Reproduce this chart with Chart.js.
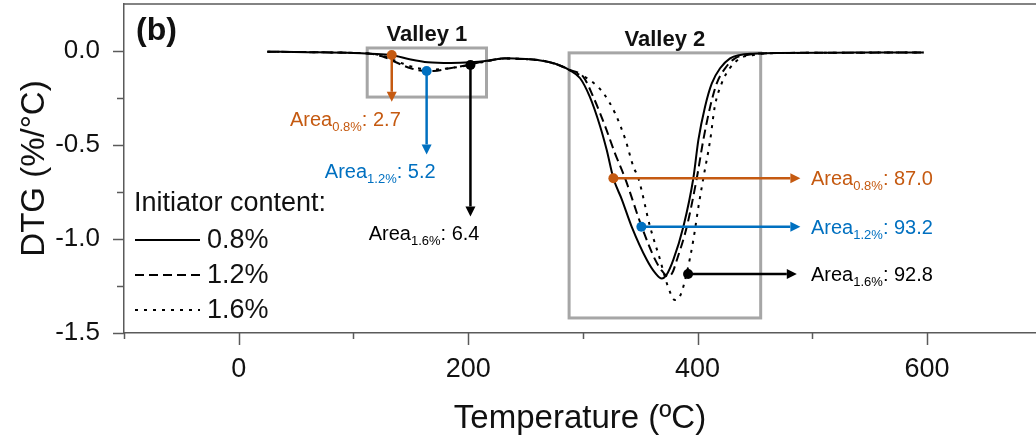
<!DOCTYPE html>
<html>
<head>
<meta charset="utf-8">
<script src="https://cdn.jsdelivr.net/npm/chart.js@4.4.1/dist/chart.umd.min.js"></script>
<style>
  html, body { margin: 0; padding: 0; background: #fff; }
  #wrap { width: 1036px; height: 443px; }
</style>
</head>
<body>
<div id="wrap"><canvas id="chart" width="1036" height="443"></canvas></div>
<script>
const FONT = "'Liberation Sans', Arial, sans-serif";
const TEXT = '#111111';
const AXIS = '#5a5a5a';
const FRAME = '#a6a6a6';
const ORANGE = '#C55A11';
const BLUE = '#0070C0';
const BLACK = '#000000';

// axis ticks (labels only on every other x tick / every half unit on y)
const xTickValues = [-100, 0, 100, 200, 300, 400, 500, 600];
const xTickLabels = ['', '0', '', '200', '', '400', '', '600'];
const yTickValues = [-1.5, -1.25, -1.0, -0.75, -0.5, -0.25, 0.0];
const yTickLabels = ['-1.5', '', '-1.0', '', '-0.5', '', '0.0'];

// DTG curves (temperature in ºC, DTG in %/ºC)
const temps08 = [25, 60, 100, 115, 133, 150, 165, 185, 202, 218, 232, 250, 263, 276, 288, 297.6, 306, 315, 320.8, 326.6, 334, 342.6, 355.7, 363, 368.8, 373, 378.9, 387.6, 396.3, 400.7, 406.5, 412.4, 419.6, 428.3, 437, 448, 470, 520, 560, 597];
const dtg08 = [-0.004, -0.006, -0.010, -0.014, -0.021, -0.045, -0.060, -0.064, -0.060, -0.050, -0.038, -0.042, -0.050, -0.068, -0.100, -0.145, -0.243, -0.400, -0.527, -0.677, -0.790, -0.935, -1.110, -1.180, -1.210, -1.190, -1.110, -0.935, -0.677, -0.473, -0.296, -0.172, -0.092, -0.039, -0.021, -0.014, -0.010, -0.009, -0.008, -0.008];

const temps12 = [25, 60, 100, 115, 125, 140, 150, 160, 170, 184, 200, 215, 232, 250, 263, 276, 288, 300.4, 309, 319.4, 328, 336.8, 351.3, 363, 369, 374.5, 378, 382, 390.6, 399.3, 405, 411, 416.7, 424, 432.6, 443, 455, 480, 530, 597];
const dtg12 = [-0.004, -0.006, -0.010, -0.015, -0.028, -0.068, -0.092, -0.105, -0.106, -0.092, -0.074, -0.055, -0.040, -0.043, -0.050, -0.068, -0.100, -0.137, -0.243, -0.400, -0.544, -0.677, -0.935, -1.110, -1.170, -1.200, -1.180, -1.110, -0.935, -0.677, -0.473, -0.296, -0.172, -0.092, -0.039, -0.021, -0.013, -0.010, -0.009, -0.008];

const temps16 = [25, 60, 100, 115, 125, 140, 155, 170, 185, 202, 215, 232, 250, 263, 276, 288, 295, 306, 318, 328, 337, 344, 348.4, 358.6, 367.3, 374, 380.4, 385, 390.6, 396.3, 400.7, 405, 411, 415, 421, 428, 437, 448.7, 460, 490, 597];
const dtg16 = [-0.004, -0.006, -0.010, -0.014, -0.025, -0.060, -0.090, -0.098, -0.090, -0.074, -0.056, -0.040, -0.043, -0.050, -0.068, -0.100, -0.120, -0.154, -0.225, -0.330, -0.470, -0.615, -0.677, -0.935, -1.110, -1.250, -1.325, -1.300, -1.180, -1.005, -0.830, -0.677, -0.473, -0.296, -0.172, -0.092, -0.039, -0.021, -0.013, -0.010, -0.008];

const seriesLabels = ['0.8%', '1.2%', '1.6%'];
const legendTitle = 'Initiator content:';

// valley frames and peak-area callouts (data units)
const valleyBoxes = [
  { label: 'Valley 1', xMin: 112, xMax: 216, yMin: -0.245, yMax: 0.016 },
  { label: 'Valley 2', xMin: 288, xMax: 455, yMin: -1.42, yMax: -0.01 },
];
const areaValley1 = ['2.7', '5.2', '6.4'];
const areaValley2 = ['87.0', '93.2', '92.8'];
const arrowsValley1 = [
  { from: [133.4, -0.021], to: [133.4, -0.27], color: ORANGE },
  { from: [163.8, -0.106], to: [163.8, -0.55], color: BLUE },
  { from: [202, -0.074], to: [202, -0.88], color: BLACK },
];
const arrowsValley2 = [
  { from: [326.6, -0.677], to: [489.6, -0.677], color: ORANGE },
  { from: [351, -0.935], to: [489.6, -0.935], color: BLUE },
  { from: [391.7, -1.186], to: [486.5, -1.186], color: BLACK },
];

const toPoints = (xs, ys) => xs.map((x, i) => ({ x, y: ys[i] }));
const isHalf = v => Math.abs(v * 2 - Math.round(v * 2)) < 1e-6;

function drawArrow(ctx, x1, y1, x2, y2, color) {
  const ang = Math.atan2(y2 - y1, x2 - x1);
  const head = 10, half = 5;
  ctx.save();
  ctx.strokeStyle = color;
  ctx.fillStyle = color;
  ctx.lineWidth = 2.5;
  ctx.beginPath();
  ctx.moveTo(x1, y1);
  ctx.lineTo(x2 - Math.cos(ang) * head, y2 - Math.sin(ang) * head);
  ctx.stroke();
  ctx.beginPath();
  ctx.moveTo(x2, y2);
  ctx.lineTo(x2 - Math.cos(ang) * head - Math.sin(ang) * half, y2 - Math.sin(ang) * head + Math.cos(ang) * half);
  ctx.lineTo(x2 - Math.cos(ang) * head + Math.sin(ang) * half, y2 - Math.sin(ang) * head - Math.cos(ang) * half);
  ctx.closePath();
  ctx.fill();
  ctx.beginPath();
  ctx.arc(x1, y1, 5, 0, Math.PI * 2);
  ctx.fill();
  ctx.restore();
}

// "Area_sub: value" with a real subscript
function areaLabel(ctx, sub, value, x, baseline, color, align) {
  const big = `20px ${FONT}`, small = `13px ${FONT}`;
  ctx.save();
  ctx.fillStyle = color;
  ctx.textAlign = 'left';
  ctx.textBaseline = 'alphabetic';
  ctx.font = big;
  const w1 = ctx.measureText('Area').width;
  const w3 = ctx.measureText(': ' + value).width;
  ctx.font = small;
  const w2 = ctx.measureText(sub).width;
  const left = align === 'right' ? x - (w1 + w2 + w3) : x;
  ctx.font = big;
  ctx.fillText('Area', left, baseline);
  ctx.font = small;
  ctx.fillText(sub, left + w1, baseline + 5);
  ctx.font = big;
  ctx.fillText(': ' + value, left + w1 + w2, baseline);
  ctx.restore();
}

const tickMarks = {
  id: 'tickMarks',
  afterDraw(chart) {
    const { ctx, chartArea: a, scales: { x, y } } = chart;
    ctx.save();
    ctx.strokeStyle = AXIS;
    ctx.lineWidth = 1.5;
    ctx.beginPath();
    ctx.moveTo(a.left, a.top);
    ctx.lineTo(a.right, a.top);
    ctx.stroke();
    x.ticks.forEach(t => {
      const px = Math.round(x.getPixelForValue(t.value)) + 0.5;
      const len = t.value % 200 === 0 ? 12 : 6;
      ctx.beginPath();
      ctx.moveTo(px, a.bottom);
      ctx.lineTo(px, a.bottom + len);
      ctx.stroke();
    });
    y.ticks.forEach(t => {
      const py = Math.round(y.getPixelForValue(t.value)) + 0.5;
      const len = isHalf(t.value) ? 11 : 7;
      ctx.beginPath();
      ctx.moveTo(a.left, py);
      ctx.lineTo(a.left - len, py);
      ctx.stroke();
    });
    ctx.restore();
  }
};

const callouts = {
  id: 'callouts',
  beforeDatasetsDraw(chart) {
    const { ctx, scales: { x, y } } = chart;
    ctx.save();
    ctx.strokeStyle = FRAME;
    ctx.lineWidth = 3;
    valleyBoxes.forEach(b => {
      const l = x.getPixelForValue(b.xMin), r = x.getPixelForValue(b.xMax);
      const t = y.getPixelForValue(b.yMax), btm = y.getPixelForValue(b.yMin);
      ctx.strokeRect(l, t, r - l, btm - t);
      ctx.fillStyle = TEXT;
      ctx.font = `bold 22px ${FONT}`;
      ctx.textAlign = 'center';
      ctx.textBaseline = 'alphabetic';
      ctx.fillText(b.label, (l + r) / 2, t - 7);
    });
    ctx.restore();
  },
  afterDatasetsDraw(chart) {
    const { ctx, scales: { x, y } } = chart;
    arrowsValley1.forEach((ar, i) => {
      const x1 = x.getPixelForValue(ar.from[0]), y1 = y.getPixelForValue(ar.from[1]);
      const x2 = x.getPixelForValue(ar.to[0]), y2 = y.getPixelForValue(ar.to[1]);
      drawArrow(ctx, x1, y1, x2, y2, ar.color);
      areaLabel(ctx, seriesLabels[i], areaValley1[i], x2 + 9, y2 + 24, ar.color, 'right');
    });
    arrowsValley2.forEach((ar, i) => {
      const x1 = x.getPixelForValue(ar.from[0]), y1 = y.getPixelForValue(ar.from[1]);
      const x2 = x.getPixelForValue(ar.to[0]), y2 = y.getPixelForValue(ar.to[1]);
      drawArrow(ctx, x1, y1, x2, y2, ar.color);
      areaLabel(ctx, seriesLabels[i], areaValley2[i], 811, y2 + 7, ar.color, 'left');
    });
    // panel tag
    ctx.save();
    ctx.fillStyle = TEXT;
    ctx.font = `bold 32px ${FONT}`;
    ctx.textAlign = 'left';
    ctx.textBaseline = 'alphabetic';
    ctx.fillText('(b)', 136, 40);
    ctx.restore();
  }
};

const lineLegend = {
  id: 'lineLegend',
  afterDatasetsDraw(chart) {
    const { ctx } = chart;
    ctx.save();
    ctx.fillStyle = TEXT;
    ctx.textAlign = 'left';
    ctx.textBaseline = 'middle';
    ctx.font = `27px ${FONT}`;
    ctx.fillText(legendTitle, 134, 204);
    chart.data.datasets.forEach((ds, i) => {
      const yy = 240 + i * 35;
      ctx.strokeStyle = ds.borderColor;
      ctx.lineWidth = 2;
      ctx.setLineDash(ds.borderDash || []);
      ctx.beginPath();
      ctx.moveTo(135, yy);
      ctx.lineTo(200, yy);
      ctx.stroke();
      ctx.setLineDash([]);
      ctx.fillText(ds.label, 207, yy + 1);
    });
    ctx.restore();
  }
};

const datasets = [
  { label: seriesLabels[0], data: toPoints(temps08, dtg08), borderDash: [] },
  { label: seriesLabels[1], data: toPoints(temps12, dtg12), borderDash: [9, 5] },
  { label: seriesLabels[2], data: toPoints(temps16, dtg16), borderDash: [3, 6] },
].map(d => ({
  ...d,
  borderColor: '#000',
  borderWidth: 2,
  pointRadius: 0,
  fill: false,
  cubicInterpolationMode: 'monotone',
}));

new Chart(document.getElementById('chart').getContext('2d'), {
  type: 'line',
  data: { datasets },
  options: {
    responsive: false,
    animation: false,
    devicePixelRatio: 1,
    layout: { padding: { top: 4, right: 0, bottom: 0, left: 0 } },
    plugins: { legend: { display: false }, tooltip: { enabled: false } },
    scales: {
      x: {
        type: 'linear',
        min: -100,
        max: 695,
        afterBuildTicks: s => { s.ticks = xTickValues.map(value => ({ value })); },
        afterFit: s => { s.height = 110; s.paddingLeft = 0; s.paddingRight = 0; },
        border: { color: AXIS, width: 1.5 },
        grid: { drawOnChartArea: false, drawTicks: false },
        ticks: {
          autoSkip: false,
          maxRotation: 0,
          padding: 20,
          color: TEXT,
          font: { family: FONT, size: 27 },
          callback: (v, i) => xTickLabels[i],
        },
        title: {
          display: true,
          text: 'Temperature (ºC)',
          color: TEXT,
          font: { family: FONT, size: 33 },
          padding: { top: 0, bottom: 4 },
        },
      },
      y: {
        min: -1.5,
        max: 0.25,
        afterBuildTicks: s => { s.ticks = yTickValues.map(value => ({ value })); },
        afterFit: s => { s.width = 124; s.paddingTop = 0; s.paddingBottom = 0; },
        border: { color: AXIS, width: 1.5 },
        grid: { drawOnChartArea: false, drawTicks: false },
        ticks: {
          autoSkip: false,
          padding: 24,
          color: TEXT,
          font: { family: FONT, size: 26 },
          callback: (v, i) => yTickLabels[i],
        },
        title: {
          display: true,
          text: 'DTG (%/°C)',
          color: TEXT,
          font: { family: FONT, size: 33 },
          padding: { top: 15, bottom: 0 },
        },
      },
    },
  },
  plugins: [tickMarks, callouts, lineLegend],
});
</script>
</body>
</html>
